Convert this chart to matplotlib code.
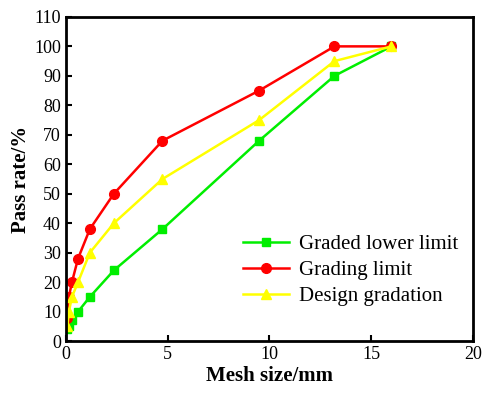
import matplotlib.pyplot as plt
import numpy as np

# sieve sizes (mm)
mesh = [0.075, 0.15, 0.3, 0.6, 1.18, 2.36, 4.75, 9.5, 13.2, 16]
lower = [4, 5, 7, 10, 15, 24, 38, 68, 90, 100]
upper = [8, 15, 20, 28, 38, 50, 68, 85, 100, 100]
design = [5, 10, 15, 20, 30, 40, 55, 75, 95, 100]

plt.rcParams['font.family'] = ['Liberation Serif', 'DejaVu Serif']

fig = plt.figure(figsize=(4.84, 3.93), dpi=100)
ax = fig.add_axes([0.136, 0.132, 0.841, 0.825])

ax.plot(mesh, lower, color='#00ee00', marker='s', ms=6, lw=1.8, label='Graded lower limit')
ax.plot(mesh, upper, color='#ff0000', marker='o', ms=7, lw=1.8, label='Grading limit')
ax.plot(mesh, design, color='#ffff00', marker='^', ms=7, lw=1.8, label='Design gradation')

ax.set_xlim(0, 20)
ax.set_ylim(0, 110)
ax.set_xticks(np.arange(0, 21, 5))
ax.set_yticks(np.arange(0, 111, 10))
ax.tick_params(direction='in', width=1.5, length=4, labelsize=13)
for s in ax.spines.values():
    s.set_linewidth(2)

ax.set_xlabel('Mesh size/mm', fontsize=15, fontweight='bold', labelpad=2)
ax.set_ylabel('Pass rate/%', fontsize=15, fontweight='bold', labelpad=2)
ax.legend(loc='lower right', bbox_to_anchor=(1.01, 0.05), frameon=False, fontsize=15,
          handlelength=2.2, labelspacing=0.3, handletextpad=0.5)

fig.savefig('out.png', dpi=100)
